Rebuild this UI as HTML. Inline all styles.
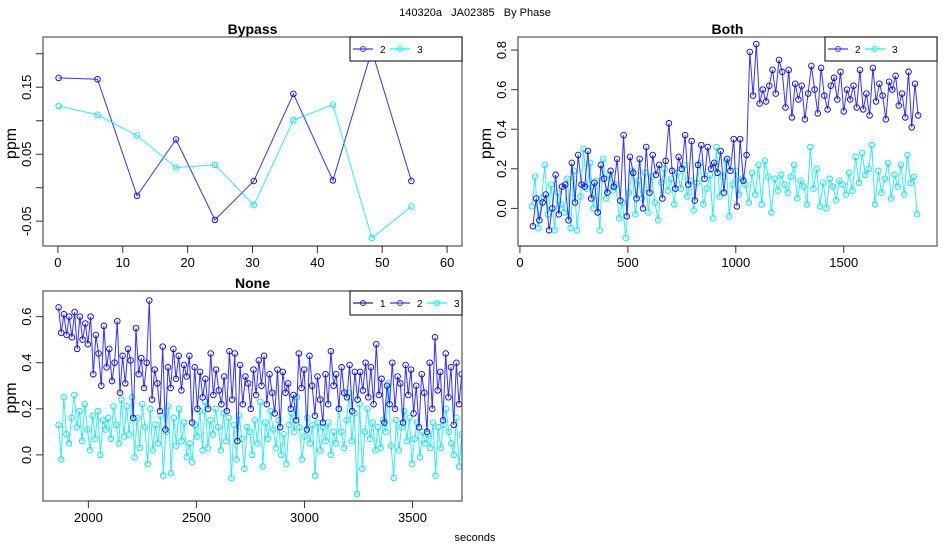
<!DOCTYPE html>
<html><head><meta charset="utf-8">
<style>
html,body{margin:0;padding:0;background:#fff;}
svg{display:block;font-family:"Liberation Sans","DejaVu Sans",sans-serif;}
</style></head>
<body>
<svg id="chart" width="950" height="550" viewBox="0 0 950 550">
<text x="475" y="16" text-anchor="middle" font-size="11" style="white-space:pre">140320a   JA02385   By Phase</text>
<text x="475" y="541" text-anchor="middle" font-size="11">seconds</text>
</svg>
<script>
// ---- Bypass data ----
const bypassT2 = [0.1,6.1,12.2,18.2,24.2,30.2,36.3,42.4,48.4,54.5];
const bypassV2 = [0.164,0.162,-0.012,0.072,-0.048,0.010,0.140,0.011,0.205,0.010];
const bypassT3 = [0.1,6.1,12.2,18.2,24.2,30.2,36.3,42.4,48.4,54.5];
const bypassV3 = [0.122,0.109,0.078,0.030,0.034,-0.026,0.101,0.124,-0.075,-0.028];
// ---- Both data ----
const bothStart2 = 60, bothStep2 = 15;
const bothV2 = [-0.09,0.05,-0.06,0.03,0.07,-0.11,0.0,0.17,-0.03,0.11,
0.12,-0.06,0.23,0.03,0.27,0.12,0.11,0.29,0.05,0.13,-0.02,0.22,0.15,0.08,0.19,0.11,0.25,0.04,0.37,-0.04,
0.26,0.18,0.05,0.25,0.0,0.31,0.08,0.27,0.17,0.22,0.05,0.24,0.43,0.19,0.1,0.26,0.2,0.37,0.12,0.34,0.04,0.22,0.32,0.15,0.31,0.2,0.23,0.18,0.29,0.08,0.25,0.19,0.35,0.01,0.35,0.14,0.27,
0.79,0.57,0.83,0.53,0.6,0.54,0.62,0.7,0.58,0.75,0.69,0.51,0.7,0.46,0.63,0.55,0.62,0.45,0.58,0.72,0.6,0.48,0.71,0.57,0.5,0.62,0.66,0.55,0.69,0.49,0.6,0.55,0.62,0.51,0.7,0.5,0.58,0.47,0.71,0.54,0.63,0.57,0.45,0.64,0.6,0.67,0.52,0.58,0.46,0.69,0.41,0.63,0.47];
const bothStart3 = 55, bothStep3 = 15;
const bothV3 = [0.01,0.16,-0.1,0.05,0.22,-0.03,0.12,-0.11,0.08,0.02,
-0.02,0.15,-0.1,0.19,-0.11,0.06,0.3,0.1,0.23,0.0,0.14,-0.11,0.25,0.05,0.17,0.09,0.12,-0.05,0.03,-0.15,
0.08,0.19,-0.03,0.14,0.05,0.18,-0.02,0.16,0.03,-0.06,0.13,0.2,0.09,0.15,0.02,0.18,0.1,0.22,0.06,0.14,-0.01,0.13,0.23,0.02,0.1,0.17,-0.05,0.31,0.06,0.16,0.24,-0.04,0.12,0.19,0.07,0.15,0.12,
0.03,0.18,0.07,0.22,0.02,0.24,0.16,-0.02,0.15,0.09,0.17,0.12,0.08,0.16,0.22,0.05,0.14,0.11,0.02,0.31,0.1,0.2,0.01,0.13,0.0,0.15,0.11,0.04,0.14,0.12,0.07,0.18,0.09,0.26,0.13,0.28,0.17,0.2,0.32,0.02,0.19,0.08,0.15,0.23,0.05,0.17,0.11,0.22,0.07,0.27,0.13,0.16,-0.03];
// ---- None data ----
const noneStart = 1862, noneEnd = 3740;
const noneV2 = [0.64,0.53,0.61,0.52,0.6,0.51,0.62,0.46,0.6,0.5,0.57,0.48,0.6,0.35,0.52,0.44,0.3,0.56,0.38,0.46,0.32,0.4,0.58,0.27,0.43,0.31,0.46,0.41,0.16,0.55,0.35,0.42,0.29,0.4,0.67,0.24,0.37,0.31,0.19,0.47,0.11,0.38,0.29,0.46,0.33,0.43,0.28,0.39,0.34,0.43,0.14,0.38,0.2,0.36,0.25,0.33,0.2,0.44,0.26,0.37,0.28,0.22,0.34,0.19,0.45,0.24,0.44,0.06,0.39,0.22,0.34,0.31,0.2,0.37,0.26,0.41,0.3,0.43,0.22,0.35,0.27,0.18,0.37,0.12,0.36,0.27,0.31,0.2,0.26,0.15,0.44,0.29,0.37,0.11,0.43,0.3,0.17,0.34,0.24,0.14,0.35,0.22,0.45,0.3,0.35,0.2,0.38,0.27,0.25,0.39,0.19,0.36,0.24,0.36,0.28,0.4,0.25,0.38,0.22,0.48,0.26,0.33,0.14,0.3,0.22,0.4,0.2,0.34,0.31,0.14,0.39,0.26,0.37,0.18,0.3,0.12,0.35,0.27,0.1,0.4,0.2,0.51,0.28,0.36,0.15,0.44,0.25,0.38,0.13,0.4,0.22,0.35,0.29];
const noneV3 = [0.13,-0.02,0.25,0.09,0.05,0.16,0.26,0.12,0.19,0.06,0.22,0.11,0.02,0.17,0.07,0.19,0.0,0.15,0.11,0.16,0.07,0.21,0.13,0.05,0.24,0.08,0.21,0.09,0.25,-0.01,0.16,0.03,0.22,0.12,-0.04,0.2,0.02,0.13,0.05,0.17,-0.09,0.1,0.21,-0.08,0.16,0.04,0.2,0.06,0.14,-0.01,0.05,-0.03,0.13,0.08,0.19,0.02,0.23,0.03,0.15,0.09,0.2,0.12,0.02,0.18,0.06,0.16,-0.1,0.13,-0.02,0.17,0.07,-0.06,0.12,0.1,0.0,0.15,0.05,0.23,-0.05,0.14,0.07,0.19,0.11,0.03,0.15,0.0,0.09,-0.04,0.13,0.18,0.1,0.25,0.12,-0.02,0.08,0.16,0.05,0.13,-0.09,0.14,0.02,0.12,0.06,0.14,0.0,0.1,0.05,0.2,0.1,0.03,0.15,0.27,0.06,0.18,-0.17,0.22,-0.06,0.1,0.2,0.07,0.14,0.02,0.12,0.03,0.15,0.1,0.31,0.04,-0.1,0.15,0.02,0.12,0.19,0.06,0.16,-0.04,0.07,0.14,-0.01,0.1,0.05,0.09,0.03,0.14,-0.09,0.12,0.03,0.13,0.2,0.1,0.05,0.0,0.16,-0.05,0.09,0.22];
// tick arrays
const bypassXTicks = [0,10,20,30,40,50,60];
const bypassYTicks = [-0.05,0,0.05,0.1,0.15,0.2];
const bypassYLabels = ["-0.05","","0.05","","0.15",""];
const bothXTicks = [0,500,1000,1500];
const bothYTicks = [0,0.2,0.4,0.6,0.8];
const bothYLabels = ["0.0","0.2","0.4","0.6","0.8"];
const noneXTicks = [2000,2500,3000,3500];
const noneYTicks = [0,0.2,0.4,0.6];
const noneYLabels = ["0.0","0.2","0.4","0.6"];

const NS = "http://www.w3.org/2000/svg";
const svg = document.getElementById('chart');
function mk(tag, attrs, parent){ const e=document.createElementNS(NS,tag); for(const k in attrs) e.setAttribute(k,attrs[k]); (parent||svg).appendChild(e); return e; }
function seq(start, step, n){ const a=[]; for(let i=0;i<n;i++) a.push(start+i*step); return a; }
function span(a,b,n){ const s=(b-a)/(n-1); return seq(a,s,n); }

function panel(p){
  const g = mk('g',{});
  
  
  const sx = v => p.box[0] + (v - p.xd[0])/(p.xd[1]-p.xd[0])*(p.box[2]-p.box[0]);
  const sy = v => p.box[3] - (v - p.yd[0])/(p.yd[1]-p.yd[0])*(p.box[3]-p.box[1]);
  const cid = 'clip-'+p.name;
  const cp = mk('clipPath',{id:cid}, g);
  mk('rect',{x:p.box[0],y:p.box[1],width:p.box[2]-p.box[0],height:p.box[3]-p.box[1]}, cp);
  const title = mk('text',{x:(p.box[0]+p.box[2])/2,y:p.box[1]-3,'text-anchor':'middle','font-size':14,'font-weight':'bold'}, g);
  title.textContent = p.title;
  
  
  const dg = mk('g',{'clip-path':'url(#'+cid+')'}, g);
  p.series.forEach(s=>{
    const sg = mk('g',{}, dg);
    
    
    const pts = s.t.map((t,i)=>sx(t).toFixed(1)+','+sy(s.v[i]).toFixed(1)).join(' ');
    const pl = mk('polyline',{points:pts,fill:'none',stroke:s.color,'stroke-width':1,'stroke-opacity':0.8}, sg);
    
    
    s.t.forEach((t,i)=>{
      const c = mk('circle',{cx:sx(t).toFixed(1),cy:sy(s.v[i]).toFixed(1),r:2.8,fill:'none',stroke:s.color,'stroke-width':0.9}, sg);
      
      
    });
  });
  const bx = mk('rect',{x:p.box[0],y:p.box[1],width:p.box[2]-p.box[0],height:p.box[3]-p.box[1],fill:'none',stroke:'#555','stroke-width':1.2}, g);
  
  
  const xa = mk('g',{}, g);
  
  
  const xt = p.xTicks;
  mk('line',{x1:sx(xt[0]),x2:sx(xt[xt.length-1]),y1:p.box[3],y2:p.box[3],stroke:'#333'}, xa);
  xt.forEach(v=>{
    mk('line',{x1:sx(v),x2:sx(v),y1:p.box[3],y2:p.box[3]+7,stroke:'#333'}, xa);
    const t = mk('text',{x:sx(v),y:p.box[3]+21,'text-anchor':'middle','font-size':13}, xa);
    t.textContent = String(v);
    
    
  });
  const ya = mk('g',{}, g);
  
  
  const yt = p.yTicks;
  mk('line',{x1:p.box[0],x2:p.box[0],y1:sy(yt[0]),y2:sy(yt[yt.length-1]),stroke:'#333'}, ya);
  yt.forEach((v,i)=>{
    mk('line',{x1:p.box[0]-7,x2:p.box[0],y1:sy(v),y2:sy(v),stroke:'#333'}, ya);
    if(p.yLabels[i]){
      const x = p.box[0]-12, y = sy(v);
      const t = mk('text',{x:x,y:y,'text-anchor':'middle','font-size':13,transform:'rotate(-90 '+x+' '+y+')'}, ya);
      t.textContent = p.yLabels[i];
      
      
    }
  });
  const yl_x = p.box[0]-27, yl_y = (p.box[1]+p.box[3])/2 + 2;
  const yl = mk('text',{x:yl_x,y:yl_y,'text-anchor':'middle','font-size':16,transform:'rotate(-90 '+yl_x+' '+yl_y+')'}, g);
  yl.textContent = 'ppm';
  
  
  const lg = mk('g',{}, g);
  
  
  const lx0 = p.box[2]-112, ly0 = p.box[1];
  mk('rect',{x:lx0,y:ly0,width:112,height:24,fill:'#fff',stroke:'#000','stroke-width':1}, lg);
  let cx = lx0 + 3;
  p.legend.forEach(e=>{
    const eg = mk('g',{}, lg);
    
    
    mk('line',{x1:cx,x2:cx+20,y1:ly0+12,y2:ly0+12,stroke:e.color,'stroke-width':1.2}, eg);
    mk('circle',{cx:cx+10,cy:ly0+12,r:2.5,fill:'none',stroke:e.color}, eg);
    const t = mk('text',{x:cx+27,y:ly0+16,'font-size':10}, eg);
    t.textContent = e.label;
    cx += 37;
  });
}

panel({name:'bypass',title:'Bypass',box:[43,37,462,246],xd:[-2.3,62.3],yd:[-0.087,0.225],
  xTicks:bypassXTicks,yTicks:bypassYTicks,yLabels:bypassYLabels,
  series:[{label:'2',color:'#0000ff',t:bypassT2,v:bypassV2},{label:'3',color:'#00e5ee',t:bypassT3,v:bypassV3}],
  legend:[{label:'2',color:'#3a3aff'},{label:'3',color:'#00ffff'}]});

panel({name:'both',title:'Both',box:[518,37,937,246],xd:[-9,1932],yd:[-0.19,0.866],
  xTicks:bothXTicks,yTicks:bothYTicks,yLabels:bothYLabels,
  series:[{label:'3',color:'#00e5ee',t:seq(bothStart3,bothStep3,bothV3.length),v:bothV3},
          {label:'2',color:'#0000ff',t:seq(bothStart2,bothStep2,bothV2.length),v:bothV2}],
  legend:[{label:'2',color:'#3a3aff'},{label:'3',color:'#00ffff'}]});

panel({name:'none',title:'None',box:[43,291,462,501],xd:[1790,3729],yd:[-0.2,0.711],
  xTicks:noneXTicks,yTicks:noneYTicks,yLabels:noneYLabels,
  series:[{label:'3',color:'#00e5ee',t:span(noneStart,noneEnd,noneV3.length),v:noneV3},
          {label:'2',color:'#0000ff',t:span(noneStart,noneEnd,noneV2.length),v:noneV2}],
  legend:[{label:'1',color:'#2020a0'},{label:'2',color:'#3a3aff'},{label:'3',color:'#00ffff'}]});
</script>
</body></html>
